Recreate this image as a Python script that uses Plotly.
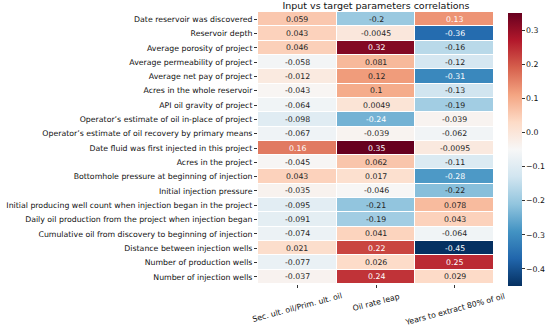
import plotly.graph_objects as go

row_labels = [
    "Date reservoir was discovered",
    "Reservoir depth",
    "Average porosity of project",
    "Average permeability of project",
    "Average net pay of project",
    "Acres in the whole reservoir",
    "API oil gravity of project",
    "Operator’s estimate of oil in-place of project",
    "Operator’s estimate of oil recovery by primary means",
    "Date fluid was first injected in this project",
    "Acres in the project",
    "Bottomhole pressure at beginning of injection",
    "Initial injection pressure",
    "Initial producing well count when injection began in the project",
    "Daily oil production from the project when injection began",
    "Cumulative oil from discovery to beginning of injection",
    "Distance between injection wells",
    "Number of production wells",
    "Number of injection wells",
]
col_labels = ["Sec. ult. oil/Prim. ult. oil", "Oil rate leap", "Years to extract 80% of oil"]

sec_ult_oil = [0.059, 0.043, 0.046, -0.058, -0.012, -0.043, -0.064, -0.098, -0.067, 0.16,
               -0.045, 0.043, -0.035, -0.095, -0.091, -0.074, 0.021, -0.077, -0.037]
oil_rate_leap = [-0.2, -0.0045, 0.32, 0.081, 0.12, 0.1, 0.0049, -0.24, -0.039, 0.35,
                 0.062, 0.017, -0.046, -0.21, -0.19, 0.041, 0.22, 0.026, 0.24]
years_80 = [0.13, -0.36, -0.16, -0.12, -0.31, -0.13, -0.19, -0.039, -0.062, -0.0095,
            -0.11, -0.28, -0.22, 0.078, 0.043, -0.064, -0.45, 0.25, 0.029]

cbar_ticks = [-0.4, -0.3, -0.2, -0.1, 0.0, 0.1, 0.2, 0.3]

columns = [sec_ult_oil, oil_rate_leap, years_80]
nrow, ncol = len(row_labels), len(col_labels)
xs = list(range(ncol))
ys = list(range(nrow))
z = [[columns[j][i] for j in xs] for i in ys]

rdbu_r = ['#053061', '#2166ac', '#4393c3', '#92c5de', '#d1e5f0', '#f7f7f7',
          '#fddbc7', '#f4a582', '#d6604d', '#b2182b', '#67001f']
colorscale = [[i / 10, c] for i, c in enumerate(rdbu_r)]

FONT = "DejaVu Sans"
TXT = "#111111"
W, H = 550, 327
L, R, T, B = 258, 56, 12, 43
PW, PH = W - L - R, H - T - B

fig = go.Figure()
fig.add_trace(go.Heatmap(
    z=z, x=xs, y=ys,
    colorscale=colorscale, zmin=-0.45, zmax=0.35,
    xgap=1, ygap=1,
    colorbar=dict(
        thickness=14, len=273, lenmode="pixels",
        x=(508 - L) / PW, xanchor="left", xpad=0,
        y=1 - (149.5 - T) / PH, yanchor="middle", ypad=0,
        outlinewidth=0,
        tickvals=cbar_ticks,
        ticktext=[("−" if t < 0 else "") + format(abs(t), ".1f") for t in cbar_ticks],
        ticks="outside", ticklen=3, tickcolor="#333",
        tickfont=dict(family=FONT, size=7.8, color=TXT),
    ),
    hoverinfo="skip",
))

annotations = []
for i in ys:
    for j in xs:
        v = columns[j][i]
        color = "white" if (v >= 0.125 or v <= -0.23) else "#262626"
        annotations.append(dict(
            x=j, y=i, xref="x", yref="y", text=format(v, ".2g"),
            showarrow=False, font=dict(family=FONT, size=7.8, color=color),
        ))
for j, cl in enumerate(col_labels):
    annotations.append(dict(
        x=j, y=-5.0 / PH, xref="x", yref="paper", text=cl, textangle=-15,
        showarrow=False, xanchor="center", yanchor="top",
        font=dict(family=FONT, size=7.8, color=TXT),
    ))

fig.update_layout(
    width=W, height=H,
    margin=dict(l=L, r=R, t=T, b=B, autoexpand=False),
    paper_bgcolor="white", plot_bgcolor="white",
    title=dict(text="Input vs target parameters correlations",
               x=(L + PW / 2) / W, xanchor="center",
               y=1 - 5.5 / H, yanchor="middle",
               font=dict(family=FONT, size=9.5, color=TXT)),
    xaxis=dict(range=[-0.5, ncol - 0.5], tickvals=xs, showticklabels=False,
               ticks="outside", ticklen=3, tickcolor="#333",
               showgrid=False, zeroline=False, showline=False),
    yaxis=dict(range=[nrow - 0.5, -0.5], tickvals=ys, ticktext=row_labels,
               ticks="outside", ticklen=3, tickcolor="#333",
               tickfont=dict(family=FONT, size=7.8, color=TXT),
               showgrid=False, zeroline=False, showline=False),
    annotations=annotations,
)

fig.write_html("out.html", config={"displayModeBar": False},
               post_script="document.body.style.margin='0px';")
